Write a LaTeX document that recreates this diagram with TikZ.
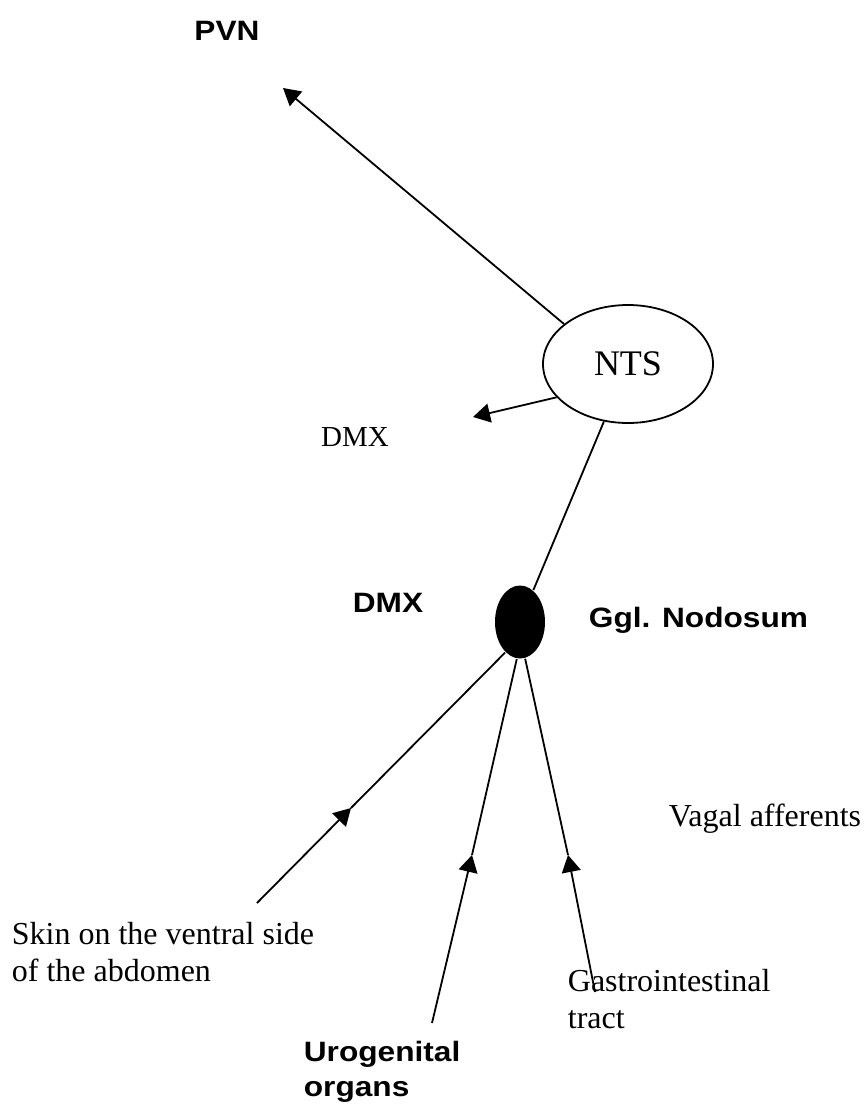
\documentclass[tikz,border=0pt]{standalone}
\usepackage{fontspec}
\setmainfont{Liberation Serif}
\newfontfamily\labelsans{Liberation Sans}[FakeStretch=1.13]
\usetikzlibrary{arrows.meta,shapes.geometric}
\tikzset{
  >={Triangle[length=17pt,width=19pt]},
  serif/.style={font=\fontsize{32}{37}\selectfont, inner sep=0pt, align=left},
  bold/.style={font=\labelsans\bfseries\fontsize{28}{35}\selectfont, inner sep=0pt, align=left},
  nerve/.style={line width=1.8pt},
}
\begin{document}
\begin{tikzpicture}[x=1pt,y=-1pt,nerve]
    \useasboundingbox (0,0) rectangle (867,1104);
    % nuclei and ganglion
    \node [draw,ellipse,serif,font=\fontsize{36}{40}\selectfont,minimum width=170pt,minimum height=118pt] (A1_2) at (628,364) {NTS};
    \node [fill,ellipse,inner sep=0pt,minimum width=50pt,minimum height=73pt] (A3_2) at (520,622) {};
    % labels
    \node [bold] (A0_0) at (227,31) {PVN};
    \node [serif,font=\fontsize{29}{34}\selectfont] (A2_0) at (355,437) {DMX};
    \node [bold,anchor=base west] (A3_0) at (352,612) {DMX};
    \node [bold,anchor=base west] (A3_3) at (588,627) {Ggl. Nodosum};
    \node [serif,anchor=base east] (A4_3) at (862,826) {Vagal afferents};
    \node [serif,anchor=north west] (A5_0) at (11,921) {Skin on the ventral side\\of the abdomen};
    \node [serif,anchor=north west] (A5_2) at (567,968) {Gastrointestinal\\tract};
    \node [bold,anchor=north west] (A6_1) at (303,1040) {Urogenital\\organs};
    % arrow tips and free ends
    \coordinate (B0_1) at (283,88);
    \coordinate (B1_1) at (473,417);
    \coordinate (B4_0) at (351,808);
    \coordinate (B4_1) at (472,855);
    \coordinate (B4_2) at (568,855);
    \coordinate (B5_0) at (257,903);
    \coordinate (B5_1) at (432,1023);
    \coordinate (B5_2) at (595,992);
    % efferents
    \path (A1_2.148) edge [->] (B0_1);
    \path (A1_2.205) edge [->] (B1_1);
    \path (A1_2) edge (A3_2);
    % afferents
    \path (B5_0) edge [->] (B4_0);
    \path (B4_0) edge (A3_2.244);
    \path (B5_1) edge [->] (B4_1);
    \path (B4_1) edge (A3_2.265);
    \path (B5_2) edge [->] (B4_2);
    \path (B4_2) edge (A3_2.278);
\end{tikzpicture}
\end{document}
